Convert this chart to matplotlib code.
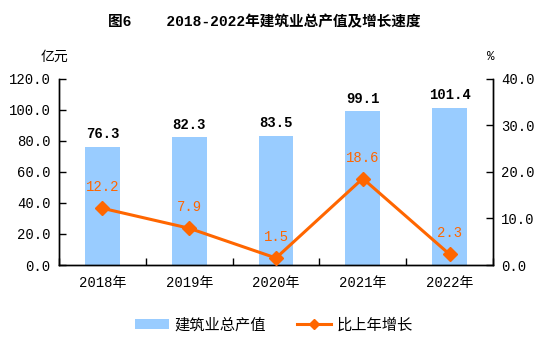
import matplotlib
matplotlib.use('Agg')
import matplotlib.pyplot as plt
from matplotlib.lines import Line2D
import numpy as np

plt.rcParams['font.family'] = ['Liberation Mono', 'Noto Sans CJK SC']

years = ['2018年', '2019年', '2020年', '2021年', '2022年']
output_value = [76.3, 82.3, 83.5, 99.1, 101.4]
growth_rate = [12.2, 7.9, 1.5, 18.6, 2.3]
left_ticks = [0, 20, 40, 60, 80, 100, 120]
right_ticks = [0, 10, 20, 30, 40]

BAR_COLOR = '#99CCFF'
LINE_COLOR = '#FF6600'

fig = plt.figure(figsize=(5.48, 3.46), dpi=100)
ax = fig.add_axes([0.1077, 0.2341, 0.7919, 0.5376])
ax2 = ax.twinx()

x = np.arange(len(years))
bars = ax.bar(x, output_value, width=0.4, color=BAR_COLOR, label='建筑业总产值', zorder=2)
ax2.plot(x, growth_rate, color=LINE_COLOR, linewidth=2.2, marker='D',
         markersize=7, zorder=3)

ax.set_xlim(-0.5, len(years) - 0.5)
ax.set_ylim(0, 120)
ax2.set_ylim(0, 40)
ax.set_yticks(left_ticks)
ax.set_yticklabels([f'{v:.1f}' for v in left_ticks], fontsize=10)
ax2.set_yticks(right_ticks)
ax2.set_yticklabels([f'{v:.1f}' for v in right_ticks], fontsize=10)

# category labels centred, tick marks at boundaries
ax.set_xticks(np.arange(len(years) + 1) - 0.5)
ax.set_xticklabels([])
ax.set_xticks(x, minor=True)
ax.set_xticklabels(years, minor=True, fontsize=10)
ax.tick_params(axis='x', which='minor', length=0, pad=8)
ax.tick_params(axis='x', which='major', direction='in', length=5, width=1)
ax.tick_params(axis='y', direction='in', length=5, width=1, pad=6)
ax2.tick_params(axis='y', direction='in', length=5, width=1, pad=6)

for a in (ax, ax2):
    a.spines['top'].set_visible(False)
    for s in ('left', 'right', 'bottom'):
        a.spines[s].set_linewidth(1.0)
        a.spines[s].set_color('black')

for xi, v in zip(x, output_value):
    ax.annotate(f'{v:.1f}', (xi, v), xytext=(0, 4), textcoords='offset points',
                ha='center', va='bottom', fontsize=10, fontweight='bold', color='black')
for xi, v in zip(x, growth_rate):
    ax2.annotate(f'{v:.1f}', (xi, v), xytext=(0, 15), textcoords='offset points',
                 ha='center', va='center', fontsize=10, color=LINE_COLOR)

fig.text(0.1, 0.835, '亿元', fontsize=10, ha='center', va='center')
fig.text(0.895, 0.835, '%', fontsize=9, ha='center', va='center')
fig.text(0.482, 0.935, '图6    2018-2022年建筑业总产值及增长速度', fontsize=10.5,
         fontweight='bold', ha='center', va='center')

line_handle = Line2D([0], [0], color=LINE_COLOR, linewidth=2.2, marker='D',
                     markersize=5.5, label='比上年增长')
fig.legend(handles=[bars, line_handle], loc='center', bbox_to_anchor=(0.5, 0.06), ncol=2,
           frameon=False, fontsize=11, handlelength=2.2, columnspacing=2.0,
           handletextpad=0.4)

fig.savefig('out.png', dpi=100)
